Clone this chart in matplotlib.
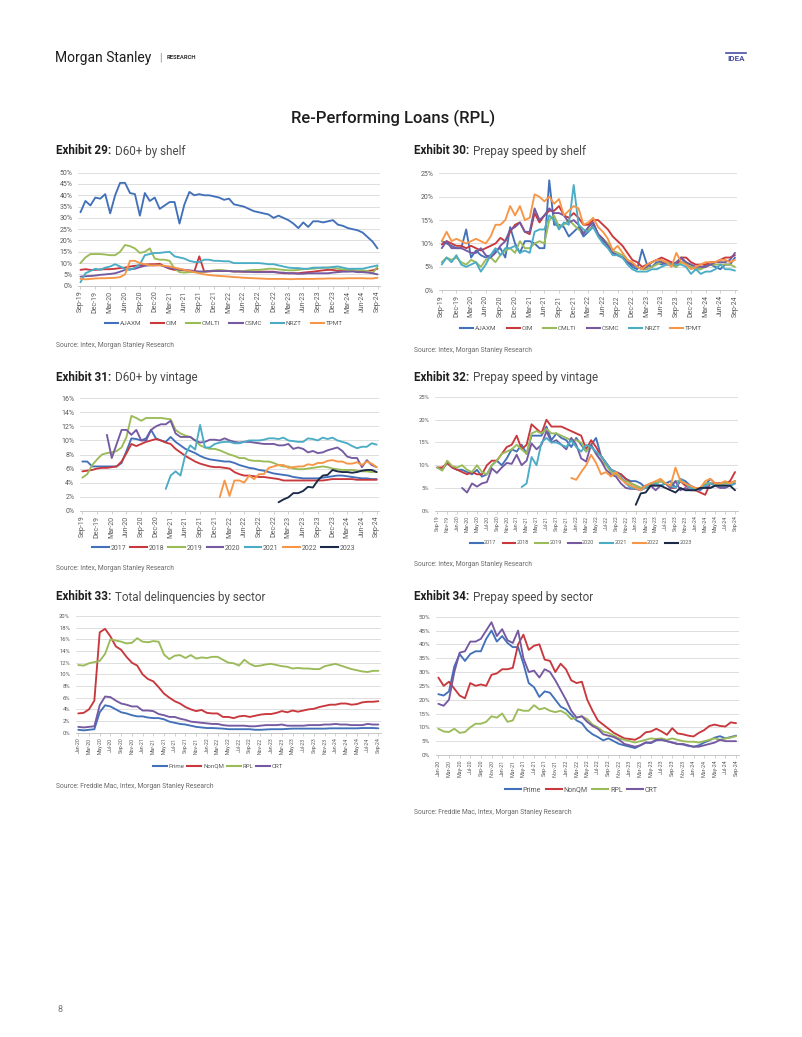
import matplotlib
matplotlib.use("Agg")
import matplotlib.pyplot as plt
from matplotlib.ticker import FuncFormatter
from matplotlib.lines import Line2D
import numpy as np
import pandas as pd

plt.rcParams['font.family'] = ['Roboto', 'DejaVu Sans']

W, H = 802, 1037
fig = plt.figure(figsize=(W / 100, H / 100), dpi=100)
fig.patch.set_facecolor('white')

# ---------------- categories ----------------
months_a = [d.strftime('%b-%y') for d in pd.date_range('2019-09-01', '2024-09-01', freq='MS')]  # 61
months_b = [d.strftime('%b-%y') for d in pd.date_range('2020-01-01', '2024-09-01', freq='MS')]  # 57

# ---------------- Exhibit 29: D60+ by shelf ----------------
ex29_names = ['AJAXM', 'CIM', 'CMLTI', 'CSMC', 'NRZT', 'TPMT']
ex29_ajaxm = [32.5, 37.5, 35.5, 39,
              38.5, 40.5, 32, 40, 45.5, 45.5, 41, 40.5, 31, 41, 37.5, 39,
              34, 35.5, 37, 37, 27.5, 36, 41.5, 40, 40.5, 40, 40, 39.5,
              39, 38, 38.5, 36, 35.5, 35, 34, 33, 32.5, 32, 31.5, 30,
              31, 30, 29, 27.5, 25.5, 28, 26, 28.5, 28.5, 28, 28.5, 29,
              27, 26.5, 25.5, 25, 24.5, 23.5, 21.5, 19.5, 16.5]
ex29_cim = [7, 7.3, 7, 7,
            7.2, 7.3, 7.3, 7.5, 7.8, 8, 8.5, 8.8, 9, 9.3, 9.5, 9.5,
            9.7, 8.5, 7.5, 7, 7, 6.8, 6.5, 6.3, 13, 6.2, 6.3, 6.5,
            6.5, 6.5, 6.5, 6.3, 6.3, 6.2, 6.2, 6.2, 6.2, 6.2, 6.2, 6.2,
            5.8, 5.5, 5.5, 5.5, 5.5, 5.8, 6, 6.2, 6.5, 6.8, 7, 7,
            6.5, 6.5, 6.5, 6.5, 6.3, 6.5, 6.5, 6.8, 7.5]
ex29_cmlti = [10, 12.5, 14, 14,
              14, 13.8, 13.5, 13.5, 15, 18, 17.5, 16.5, 14.5, 15, 16.5, 12,
              11.5, 11.5, 11, 7.5, 6, 5.8, 6, 6, 6, 6.2, 6.5, 6.8,
              7, 6.8, 6.5, 6.3, 6.3, 6.5, 6.8, 7, 7, 7.2, 7.5, 7.5,
              7.2, 7, 6.8, 6.8, 7, 7.3, 7.5, 7.5, 7.8, 8, 8, 8,
              7.5, 7.2, 7, 7, 6.8, 6.8, 6.5, 5.5, 8.5]
ex29_csmc = [4, 4.2, 4.3, 4.5,
             4.8, 5, 5.2, 5.5, 6.2, 7, 7.3, 7.5, 8.2, 8.8, 9, 9,
             9.2, 8.5, 7.8, 7.5, 7.2, 7, 6.8, 6.5, 6.3, 6.3, 6.5, 6.5,
             6.5, 6.5, 6.5, 6.3, 6.3, 6.2, 6.2, 6, 6, 6, 6, 6,
             5.8, 5.8, 5.5, 5.5, 5.3, 5.3, 5.5, 5.5, 5.5, 5.5, 5.5, 5.8,
             6, 6.2, 6.2, 6.3, 6, 6, 5.8, 5.5, 5]
ex29_nrzt = [1.5, 5.5, 6.5, 7.5,
             7, 8, 8.5, 9.5, 8.5, 7.5, 7, 8, 9.5, 13.5, 14, 14.5,
             14.5, 14.8, 15, 13, 12.5, 12, 11, 10.5, 10.5, 11.5, 11.5, 11,
             11, 10.8, 10.8, 10, 10, 10, 10, 10, 10, 9.8, 9.5, 9.5,
             9, 8.5, 8, 7.8, 7.8, 7.5, 7.5, 8, 8, 8, 8, 8.3,
             8.5, 8, 7.5, 7.5, 7.5, 7.5, 8, 8.5, 9]
ex29_tpmt = [3, 2.8, 3, 3.2,
             3.3, 3.3, 3.4, 3.5, 3.8, 5, 11, 11, 10, 9.5, 9, 9,
             9, 8.8, 8.5, 8, 7.5, 7, 6.5, 6, 5.5, 5, 4.7, 4.5,
             4.3, 4.2, 4, 3.8, 3.7, 3.5, 3.4, 3.3, 3.2, 3.1, 3, 3,
             3, 3, 2.9, 2.9, 3, 3, 3, 3, 3.1, 3.1, 3.2, 3.2,
             3.2, 3.2, 3.3, 3.3, 3.3, 3.3, 3.2, 3.2, 3.5]

# ---------------- Exhibit 30: Prepay speed by shelf ----------------
ex30_names = ['AJAXM', 'CIM', 'CMLTI', 'CSMC', 'NRZT', 'TPMT']
ex30_ajaxm = [10.5, 10, 9.5, 9,
              9, 13, 7, 8.5, 7.5, 7, 7.5, 8.5, 9, 7, 13.5, 10,
              8, 10.5, 10.5, 10, 9, 9, 23.5, 14, 14, 13.5, 11.5, 12.5,
              13.5, 11.5, 12.5, 14, 12, 10.5, 9.5, 8, 7.5, 7, 6, 5,
              4.5, 8.7, 5.5, 5, 6, 5.5, 6, 5.5, 5, 7, 5.5, 5,
              4.5, 4.5, 5.5, 5.5, 5, 4.5, 5.5, 5.5, 7]
ex30_cim = [9.8, 10.5, 10, 9.5,
            9.5, 9, 9.5, 9, 8.5, 9, 9.5, 10, 11.2, 10.5, 12.5, 14,
            14.5, 12.5, 12, 16.5, 14.5, 16, 17, 17, 18, 16, 15.5, 16.5,
            15.5, 14, 14, 15, 15, 14, 13, 11.5, 10.5, 9.5, 8, 6.5,
            6, 5, 5.5, 6, 6.5, 7, 6.5, 6, 5.5, 7, 7, 6,
            5.5, 5.5, 5.5, 6, 6, 6.5, 7, 7, 7.5]
ex30_cmlti = [6, 7, 6.5, 7,
              6, 5.5, 6.5, 6, 5, 6.5, 7, 6, 7.5, 8.5, 9, 8,
              10.5, 9, 9, 10, 10.5, 10, 15, 16, 13.5, 14, 15, 14,
              13, 12.5, 13, 13.5, 12, 11, 10, 8.5, 8, 7.5, 6.5, 5.5,
              5, 4.5, 4.5, 5, 5.5, 6, 6, 5.5, 5, 6, 6, 5,
              4.5, 4.5, 5, 5.5, 5.5, 5.5, 5.5, 5.5, 5]
ex30_csmc = [9, 10.5, 9, 9,
             9, 8.5, 8, 8, 9, 7.5, 7, 8, 9.5, 10.5, 13, 13.5,
             14.5, 12.5, 12.5, 17.5, 15, 16, 17.5, 16.5, 16.5, 16, 14.5, 15,
             14, 12, 13.5, 14.5, 12, 11, 9.5, 8, 7.5, 7, 6, 5.5,
             5, 4.5, 5, 6, 6.5, 6, 5.5, 5.5, 6, 7, 6, 5.5,
             5, 5, 5, 5.5, 6, 6, 6, 6.5, 8]
ex30_nrzt = [5.5, 7, 6, 7.5,
             5.5, 5, 5.5, 6, 4, 5.5, 7.5, 9, 7.5, 9, 9, 9.5,
             8, 8.5, 8, 12.5, 13, 13, 16, 15, 13, 14.5, 14, 22.5,
             14, 13, 12.5, 13.5, 11.5, 10, 9, 7.5, 7.5, 7, 5.5, 4.5,
             4, 4, 4, 4.5, 4.5, 5, 5.5, 5.5, 5.5, 5.5, 5, 3.5,
             4.5, 3.5, 4, 4, 4.5, 5.5, 4.5, 4.5, 4.2]
ex30_tpmt = [10.5, 12.5, 10.5, 11,
             10.5, 10, 10.5, 11, 10.5, 10, 11.5, 14, 14, 15, 18, 16,
             18, 15, 15.5, 20.5, 20, 19, 20, 18.5, 19.5, 16, 17, 18,
             17.5, 14, 14.5, 15.5, 13.5, 12.5, 11, 8.5, 9.5, 8, 6.5, 6,
             5, 4.5, 5.5, 6, 6.5, 6.5, 6, 5, 8, 6, 5.5, 4.5,
             5, 5.5, 6, 6, 6, 6.5, 6.5, 6, 6.5]

# ---------------- Exhibit 31: D60+ by vintage ----------------
ex31_names = ['2017', '2018', '2019', '2020', '2021', '2022', '2023']
ex31_v2017 = [7, 7, 6.3, 6.3,
              6.3, 6.3, 6.3, 6.3, 6.8, 8.5, 10.3, 10.2, 10, 10.3, 11.5, 10.3,
              10, 9.8, 10.5, 9.8, 9.3, 8.8, 8.5, 8.2, 7.8, 7.5, 7.3, 7.2,
              7.1, 7, 7, 6.8, 6.5, 6.3, 6.1, 6, 5.8, 5.7, 5.5, 5.3,
              5.2, 5.1, 5, 4.8, 4.7, 4.6, 4.6, 4.6, 4.6, 4.7, 4.8, 4.9,
              5, 5, 4.9, 4.8, 4.7, 4.6, 4.6, 4.5, 4.5]
ex31_v2018 = [5.6, 5.7, 5.8, 6,
              6.1, 6.1, 6.2, 6.3, 7, 8.2, 9.5, 9.2, 9.5, 9.8, 10, 10.2,
              10, 9.7, 9.5, 8.8, 8.3, 7.8, 7.4, 7, 6.7, 6.5, 6.3, 6.2,
              6.2, 6.1, 6, 5.5, 5.2, 5, 5, 4.9, 4.8, 4.8, 4.7, 4.6,
              4.5, 4.3, 4.3, 4.3, 4.3, 4.3, 4.3, 4.3, 4.3, 4.3, 4.4, 4.5,
              4.5, 4.5, 4.5, 4.5, 4.4, 4.4, 4.4, 4.4, 4.4]
ex31_v2019 = [4.7, 5.2, 6.5, 7.3,
              8, 8.2, 8.3, 8.5, 9, 10.5, 13.5, 13.2, 12.8, 13.2, 13.2, 13.2,
              13.2, 13.1, 13, 11.5, 11, 10.7, 10.5, 10, 9.3, 9, 8.8, 8.8,
              8.6, 8.3, 8, 7.8, 7.5, 7.5, 7.2, 7.1, 7.1, 7, 7, 6.8,
              6.5, 6.3, 6.3, 6, 5.9, 5.9, 6, 6.1, 6.2, 6.3, 6.2, 6,
              5.9, 5.8, 5.8, 5.8, 5.7, 5.6, 5.6, 5.5, 5.5]
ex31_v2020 = [None] * 5 + [10.8, 7.5, 9.5, 11.5, 11.5, 10.8, 11.5, 10, 10, 11.5, 12,
              12.3, 12.3, 12.8, 11, 10.5, 10.5, 10.5, 10, 9.7, 9.8, 10.1, 10.1,
              10, 10.3, 10, 9.8, 9.7, 9.8, 9.8, 9.7, 9.6, 9.5, 9.5, 9.5,
              9.3, 9.3, 9.5, 8.8, 9, 8.8, 8.3, 8.5, 8.2, 8.3, 8.6, 8.8,
              9, 8.5, 7.7, 7.5, 7.5, 6.2, 7.2, 6.5, 6.2]
ex31_v2021 = [None] * 17 + [3.1, 5, 5.6, 5, 8, 9.3, 8.7, 12.2, 9, 9, 9.5,
              9.7, 9.8, 9.8, 9.6, 9.6, 9.8, 10, 10, 10, 10.1, 10.3, 10.3,
              10.2, 10.4, 10, 9.9, 9.8, 9.8, 10.3, 10.2, 10, 10.4, 10.2, 10.4,
              10, 9.8, 9.6, 9.2, 8.9, 9.1, 9.1, 9.6, 9.4]
ex31_v2022 = [None] * 28 + [1.9, 4.3, 2.1, 4.3, 4.3, 4, 5, 4.5, 5.2, 5.2, 6.1, 6.3,
              6.5, 6.5, 6.1, 6.2, 6.3, 6.3, 6.6, 6.5, 6.8, 6.8, 7.1, 7.2,
              7, 7, 6.7, 6.7, 6.9, 6.5, 7, 6.7, 6.2]
ex31_v2023 = [None] * 40 + [1.2, 1.6, 1.9, 2.5, 2.5, 2.8, 3.4, 3.3, 4.3, 5, 5.1, 5.8,
              5.6, 5.5, 5.5, 5.4, 5.5, 5.7, 5.8, 5.8, 5.5]

# ---------------- Exhibit 32: Prepay speed by vintage ----------------
ex32_names = ['2017', '2018', '2019', '2020', '2021', '2022', '2023']
ex32_v2017 = [9.5, 9, 10.5, 9.5,
              9, 9, 8.5, 8, 9, 7.5, 8, 10, 11, 10, 11.5, 13.5,
              13, 14.5, 12.5, 16.5, 16.5, 16.5, 18.5, 15.5, 17, 16, 15.5, 14,
              16, 14.5, 13, 14.5, 16, 12, 10.5, 9, 8.5, 8, 7, 6.5,
              6.5, 6, 5, 5.5, 6, 5.5, 6, 6.5, 5, 7, 6.5, 5.5,
              5, 4.5, 5.5, 7, 6, 6, 6, 6, 6.5]
ex32_v2018 = [9.5, 9.5, 10.5, 9.5,
              9, 8.5, 8, 8.5, 8, 8, 10, 11, 11, 12.5, 14, 14.5,
              16.5, 13.5, 14.5, 19, 18, 17, 20, 18.5, 18.5, 18.5, 18, 17.5,
              17, 16.5, 13.5, 15.5, 14, 12, 10.5, 9, 8.5, 8, 7, 6,
              5.5, 5, 5, 5.5, 6, 6.5, 6, 5, 5, 6.5, 5.5, 5,
              4.5, 4, 3.5, 6, 6, 6, 6, 6.5, 8.5]
ex32_v2019 = [9.5, 8.8, 11, 9.8,
              9.5, 10, 9, 8.5, 10, 8.5, 8, 10, 11, 12.5, 13, 13.5,
              14.5, 13.5, 12.5, 17, 17.5, 17, 18, 17, 17, 16.5, 16, 15.5,
              15.5, 15, 13, 14.5, 12.5, 11, 10, 8.5, 8, 7, 6.5, 6,
              5.5, 5, 5.5, 6, 6, 6.5, 6, 5.5, 6.5, 6.5, 6, 5,
              5, 5, 6, 6, 5.5, 6, 6, 6, 6.5]
ex32_v2020 = [None] * 5 + [5, 4, 6, 5.3, 6, 6.3, 9.3, 8.3, 9.5, 10.5, 10.3,
              12.3, 10, 11, 14.8, 13.5, 14.5, 17.5, 15, 15.5, 14.5, 13.5, 16,
              14.5, 11.5, 10.8, 14.5, 12.5, 11, 9, 8, 7.5, 6, 5, 4.8,
              4.8, 4.5, 5.5, 5.5, 4.5, 5.5, 6, 5, 6.5, 4.5, 5, 4.5,
              4.5, 5, 5.5, 5, 5.5, 5, 5, 5.5, 6]
ex32_v2021 = [None] * 17 + [5.2, 6, 11.8, 10, 15, 16, 15, 15, 14.5, 14, 15.5,
              14, 13, 14.5, 14, 13, 12, 10.5, 9, 8.5, 7.5, 6, 5,
              5, 4.5, 5, 6, 6, 5.5, 6, 5.5, 5, 7, 6, 5,
              4.5, 5, 5.5, 6, 5.5, 5.5, 5.5, 5.5, 6]
ex32_v2022 = [None] * 27 + [7.2,
              6.8, 8.5, 10, 12.3, 10.5, 8, 8.5, 7.5, 8.5, 7, 6, 5.5,
              5, 4.5, 5.5, 6, 6.5, 7, 6, 5.5, 9.5, 6.5, 6, 5.5,
              5, 5, 6.5, 7, 6, 6, 6.5, 6, 6.5]
ex32_v2023 = [None] * 40 + [1.3, 3.8, 4, 5.5, 5.5, 5.5, 5, 4.5, 4, 5, 4.5, 4.5,
              4.5, 5, 5, 5, 5.5, 5.5, 5.5, 5.5, 4.5]

# ---------------- Exhibit 33: Total delinquencies by sector ----------------
ex33_names = ['Prime', 'NonQM', 'RPL', 'CRT']
ex33_prime = [0.5, 0.4, 0.5, 0.6, 3.5, 4.7, 4.5, 4, 3.5, 3.3, 3, 2.8,
              2.8, 2.6, 2.5, 2.5, 2.3, 1.9, 1.7, 1.5, 1.4, 1.2, 1, 0.9,
              0.8, 0.8, 0.75, 0.7, 0.6, 0.6, 0.6, 0.6, 0.6, 0.5, 0.5, 0.55,
              0.6, 0.6, 0.6, 0.65, 0.7, 0.7, 0.7, 0.7, 0.7, 0.7, 0.7, 0.75,
              0.75, 0.75, 0.75, 0.75, 0.75, 0.8, 0.8, 0.8, 0.75]
ex33_nonqm = [3.3, 3.4, 4, 5.5, 17.2, 17.8, 16.5, 14.8, 14.2, 13, 12, 11.5,
              10, 9.2, 8.8, 7.8, 6.7, 6, 5.4, 5, 4.4, 4, 3.7, 3.9,
              3.4, 3.3, 3.3, 2.7, 2.7, 2.5, 2.8, 2.9, 2.7, 2.9, 3.1, 3.2,
              3.2, 3.4, 3.7, 3.5, 3.8, 3.6, 3.8, 4, 4.1, 4.4, 4.6, 4.8,
              4.8, 5, 5, 4.8, 4.9, 5.2, 5.3, 5.3, 5.4]
ex33_rpl = [11.6, 11.5, 11.9, 12.1, 12.3, 13.5, 16, 15.8, 15.6, 15.3, 15.4, 16.2,
            15.6, 15.5, 15.7, 15.6, 13.4, 12.6, 13.2, 13.3, 12.8, 13.3, 12.7, 12.9,
            12.8, 13, 13, 12.5, 12, 11.9, 11.5, 12.5, 11.8, 11.4, 11.5, 11.7,
            11.8, 11.6, 11.4, 11.3, 11, 11.1, 11, 11, 10.9, 10.9, 11.4, 11.6,
            11.8, 11.5, 11.2, 10.9, 10.7, 10.5, 10.4, 10.6, 10.6]
ex33_crt = [1, 0.9, 1, 1.1, 4.7, 6.2, 6.1, 5.5, 5, 4.8, 4.5, 4.5,
            3.8, 3.8, 3.7, 3.2, 3, 2.7, 2.7, 2.4, 2.2, 1.9, 1.8, 1.7,
            1.6, 1.5, 1.5, 1.3, 1.2, 1.2, 1.2, 1.2, 1.1, 1.1, 1.2, 1.3,
            1.3, 1.3, 1.4, 1.2, 1.2, 1.2, 1.2, 1.3, 1.3, 1.3, 1.4, 1.4,
            1.5, 1.4, 1.4, 1.3, 1.3, 1.3, 1.5, 1.4, 1.4]

# ---------------- Exhibit 34: Prepay speed by sector ----------------
ex34_names = ['Prime', 'NonQM', 'RPL', 'CRT']
ex34_prime = [22, 21.5, 23, 32, 36.5, 34, 36.5, 37.5, 37.5, 42, 45, 41,
              43, 40.5, 39, 39, 33, 26, 24.5, 21, 23, 22.5, 20, 17.5,
              16.5, 14.5, 12.5, 11.5, 9, 7.5, 6.5, 5.3, 6, 5, 4, 3.5,
              3, 2.5, 3.5, 4.5, 4.3, 5.3, 5.5, 5, 4.5, 4, 3.8, 3.3,
              3, 3.5, 4.5, 5.3, 6.3, 6.8, 6, 6.5, 7]
ex34_nonqm = [28, 25, 26.5, 24, 21.5, 20.5, 26, 25, 25.5, 25, 29, 29.5,
              31, 31, 31.5, 40, 43.5, 38, 39.5, 40, 34.5, 34, 30, 33,
              31, 27, 26, 26.5, 20, 16, 12.5, 11, 9.5, 8, 7, 6,
              5.8, 5.5, 6.5, 8.2, 8.5, 9.5, 8.5, 7.3, 9.7, 7.8, 7.5, 7,
              6.7, 8, 9, 10.5, 11, 10.5, 10.3, 11.8, 11.5]
ex34_rpl = [9.5, 8.5, 8.3, 9.5, 8, 8.3, 10, 11.3, 11.3, 12, 14, 13.5,
            15, 12, 12.5, 16.5, 16, 16, 18, 16.5, 17, 16, 15.5, 16,
            15, 13, 13.5, 14, 13, 11, 10, 8.5, 8, 7, 6, 5.5,
            5, 4.5, 5, 5.5, 6, 5.8, 6, 5.5, 6, 5.5, 5, 4.8,
            4.8, 4.5, 5, 5.5, 6, 5.5, 6, 6.3, 6.8]
ex34_crt = [18.5, 17.8, 20, 30, 37, 37.5, 41, 41, 42, 45, 48, 43,
            45.5, 41.5, 40.5, 45, 35, 30, 30.5, 28, 31, 30, 27, 23.5,
            20, 16, 13.5, 14, 12, 10.5, 9.5, 7.5, 7, 6.5, 5.5, 4,
            3.5, 3, 3.5, 4.5, 4.5, 5.5, 5.5, 5, 4.5, 4, 4, 3.5,
            3, 3, 3.5, 4, 4.5, 5.5, 5, 5, 5]

# ---------------- styling ----------------
C_BLUE = '#4371B9'
C_RED = '#C8383D'
C_GREEN = '#9BBB59'
C_PURPLE = '#7559A1'
C_AQUA = '#4BACC6'
C_ORANGE = '#F79646'
C_NAVY = '#1B2A47'
shelf_colors = [C_BLUE, C_RED, C_GREEN, C_PURPLE, C_AQUA, C_ORANGE]
vintage_colors = [C_BLUE, C_RED, C_GREEN, C_PURPLE, C_AQUA, C_ORANGE, C_NAVY]
sector_colors = [C_BLUE, C_RED, C_GREEN, C_PURPLE]
TICK_C = '#595959'
GRID_C = '#D9D9D9'

renderer = fig.canvas.get_renderer()


def px_axes(x0, y0, x1, y1):
    return fig.add_axes([x0 / W, 1 - y1 / H, (x1 - x0) / W, (y1 - y0) / H])


def make_legend(colors, names, cx, cy, fs, handlelen, colspace):
    handles = [Line2D([0], [0], color=c, lw=1.5) for c in colors]
    return fig.legend(handles, names, loc='center',
                      bbox_to_anchor=(cx / W, 1 - cy / H),
                      ncol=len(names), frameon=False, fontsize=fs,
                      handlelength=handlelen, handletextpad=0.25,
                      columnspacing=colspace, labelcolor=TICK_C,
                      borderpad=0, borderaxespad=0)


def panel(box, xlabels, series, colors, names, ymax, ystep, xstep,
          ytick_fs, xtick_fs, leg_span, leg_y, leg_fs, handlelen=2.1):
    ax = px_axes(*box)
    n = len(xlabels)
    x = np.arange(n)
    for s, c in zip(series, colors):
        ax.plot(x, np.array(s, dtype=float), color=c, lw=1.35,
                solid_joinstyle='round', solid_capstyle='round')
    ax.set_xlim(-0.5, n - 0.5)
    ax.set_ylim(0, ymax)
    ax.set_yticks(np.arange(0, ymax + 0.001, ystep))
    ax.yaxis.set_major_formatter(FuncFormatter(lambda v, p: f'{v:.0f}%'))
    ax.set_xticks(x[::xstep])
    ax.set_xticklabels(xlabels[::xstep], rotation=90)
    ax.yaxis.grid(True, color=GRID_C, lw=0.6)
    ax.set_axisbelow(True)
    for sp in ['top', 'right', 'left']:
        ax.spines[sp].set_visible(False)
    ax.spines['bottom'].set_color('#BFBFBF')
    ax.spines['bottom'].set_linewidth(0.6)
    ax.tick_params(axis='y', length=0, pad=4, labelsize=ytick_fs, labelcolor=TICK_C)
    ax.tick_params(axis='x', length=2, width=0.5, color='#BFBFBF', pad=1.5,
                   labelsize=xtick_fs, labelcolor=TICK_C)
    # legend sized to the target span
    lx0, lx1 = leg_span
    cx = (lx0 + lx1) / 2
    target = lx1 - lx0
    cs = 1.5
    leg = make_legend(colors, names, cx, leg_y, leg_fs, handlelen, cs)
    w = leg.get_window_extent(renderer).width
    fs_px = leg_fs * 100 / 72
    cs = max(0.3, cs + (target - w) / (len(names) - 1) / fs_px)
    leg.remove()
    make_legend(colors, names, cx, leg_y, leg_fs, handlelen, cs)
    return ax


def exhibit(x, y, num, title):
    t1 = fig.text(x / W, 1 - y / H, f'Exhibit {num}:', fontsize=8.4,
                  fontweight='bold', color='#1E1E1E', va='center', ha='left')
    bb = t1.get_window_extent(renderer)
    fig.text((bb.x1 + 4) / W, 1 - y / H, title, fontsize=8.4,
             fontweight='normal', color='#4A4A4A', va='center', ha='left')


def source(x, y, txt):
    fig.text(x / W, 1 - y / H, txt, fontsize=4.9, color='#6A6A6A',
             va='center', ha='left')


# ---------------- header ----------------
fig.text(55 / W, 1 - 62 / H, 'Morgan Stanley', fontsize=10, color='#1E1E1E',
         va='baseline', ha='left')
fig.text(159 / W, 1 - 57 / H, '|', fontsize=7, color='#888888', va='center', ha='left')
fig.text(167 / W, 1 - 57.5 / H, 'RESEARCH', fontsize=4.2, fontweight='bold',
         color='#333333', va='center', ha='left')
fig.text(736 / W, 1 - 61 / H, 'IDEA', fontsize=5.8, fontweight='bold',
         color='#4A4FA3', va='baseline', ha='center')
fig.add_artist(Line2D([726 / W, 746 / W], [1 - 52.5 / H, 1 - 52.5 / H],
                      color='#4A4FA3', lw=1.2))
fig.text(393 / W, 1 - 118 / H, 'Re-Performing Loans (RPL)', fontsize=12,
         fontweight='medium', color='#1E1E1E', va='center', ha='center')
fig.text(57 / W, 1 - 1010 / H, '8', fontsize=6.5, color='#777777', va='center', ha='left')

# ---------------- panels ----------------
exhibit(56, 151, 29, 'D60+ by shelf')
panel((78, 172.7, 380, 285.7), months_a,
      [ex29_ajaxm, ex29_cim, ex29_cmlti, ex29_csmc, ex29_nrzt, ex29_tpmt],
      shelf_colors, ex29_names, 50, 5, 3, 5.0, 5.0, (105, 343), 323, 4.6)
source(56, 346, 'Source: Intex, Morgan Stanley Research')

exhibit(414, 151, 30, 'Prepay speed by shelf')
panel((439.3, 173.3, 737.4, 290.3), months_a,
      [ex30_ajaxm, ex30_cim, ex30_cmlti, ex30_csmc, ex30_nrzt, ex30_tpmt],
      shelf_colors, ex30_names, 25, 5, 3, 5.0, 5.0, (460, 702), 328, 4.6)
source(414, 351, 'Source: Intex, Morgan Stanley Research')

exhibit(56, 377, 31, 'D60+ by vintage')
panel((79.9, 398.3, 379.1, 510.7), months_a,
      [ex31_v2017, ex31_v2018, ex31_v2019, ex31_v2020, ex31_v2021, ex31_v2022, ex31_v2023],
      vintage_colors, ex31_names, 16, 2, 3, 5.0, 5.0, (92, 355), 548, 5.0, 2.4)
source(56, 569, 'Source: Intex, Morgan Stanley Research')

exhibit(414, 377, 32, 'Prepay speed by vintage')
panel((434.8, 397, 737.5, 510.7), months_a,
      [ex32_v2017, ex32_v2018, ex32_v2019, ex32_v2020, ex32_v2021, ex32_v2022, ex32_v2023],
      vintage_colors, ex32_names, 25, 5, 2, 4.2, 3.7, (470, 692), 543, 4.0, 2.3)
source(414, 565, 'Source: Intex, Morgan Stanley Research')

exhibit(56, 597, 33, 'Total delinquencies by sector')
panel((75.6, 616, 381, 732.7), months_b,
      [ex33_prime, ex33_nonqm, ex33_rpl, ex33_crt],
      sector_colors, ex33_names, 20, 2, 2, 4.2, 3.7, (153, 283), 766, 4.4, 2.3)
source(56, 787, 'Source: Freddie Mac, Intex, Morgan Stanley Research')

exhibit(414, 597, 34, 'Prepay speed by sector')
panel((435.7, 616.7, 738.7, 755), months_b,
      [ex34_prime, ex34_nonqm, ex34_rpl, ex34_crt],
      sector_colors, ex34_names, 50, 5, 2, 4.5, 3.9, (505, 658), 790, 5.0, 2.3)
source(414, 813, 'Source: Freddie Mac, Intex, Morgan Stanley Research')

fig.savefig('out.png', dpi=100, facecolor='white')
